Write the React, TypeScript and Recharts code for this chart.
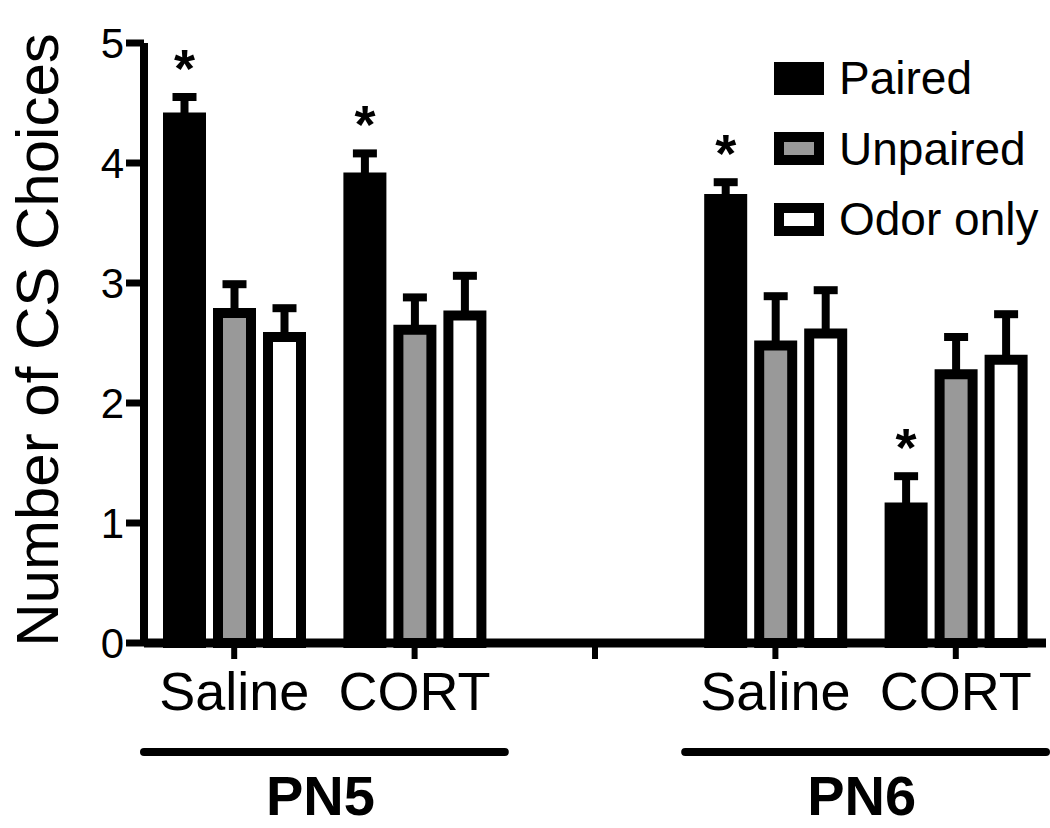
import { Bar, BarChart, ErrorBar, LabelList, Legend, XAxis, YAxis } from "recharts";

const categories = ["Saline", "CORT", "", "Saline", "CORT"];
const groups = ["PN5", "PN5", "", "PN6", "PN6"];

const paired = [4.38, 3.88, null, 3.7, 1.13];
const pairedSem = [0.17, 0.2, null, 0.14, 0.26];
const unpaired = [2.75, 2.61, null, 2.48, 2.24];
const unpairedSem = [0.24, 0.27, null, 0.41, 0.31];
const odorOnly = [2.55, 2.73, null, 2.58, 2.36];
const odorOnlySem = [0.24, 0.33, null, 0.36, 0.38];
const pairedSig = [true, true, false, true, true];

const yTicks = [0, 1, 2, 3, 4, 5];

const FONT = "'Liberation Sans', Arial, Helvetica, sans-serif";
const W = 1050;
const H = 828;
const MARGIN = { top: 43, right: 4, bottom: 0, left: 0 };
const Y_AXIS_W = 144;
const BAND = (W - MARGIN.left - MARGIN.right - Y_AXIS_W) / categories.length;

const series = [
  { key: "paired", label: "Paired", fill: "#000000" },
  { key: "unpaired", label: "Unpaired", fill: "#999999" },
  { key: "odor", label: "Odor only", fill: "#ffffff" },
];

const rows = categories.map((cat, i) => ({
  cat,
  group: groups[i],
  paired: paired[i] ?? undefined,
  pairedErr: pairedSem[i] != null ? [0, pairedSem[i]] : undefined,
  pairedStar: pairedSig[i] ? i : undefined,
  unpaired: unpaired[i] ?? undefined,
  unpairedErr: unpairedSem[i] != null ? [0, unpairedSem[i]] : undefined,
  odor: odorOnly[i] ?? undefined,
  odorErr: odorOnlySem[i] != null ? [0, odorOnlySem[i]] : undefined,
}));

function XTick(props: any) {
  const { x, y, payload, index } = props;
  const label = payload.value as string;
  // last category of a group draws the group bracket + name
  const endsGroup = groups[index] !== "" && groups[index + 1] !== groups[index];
  return (
    <g>
      {label && (
        <text x={x} y={y + 49} textAnchor="middle" fontSize={54} fontFamily={FONT} fill="#000">
          {label}
        </text>
      )}
      {endsGroup && (
        <>
          <line
            x1={x - 1.5 * BAND}
            x2={x + 0.5 * BAND}
            y1={y + 91}
            y2={y + 91}
            stroke="#000"
            strokeWidth={8}
            strokeLinecap="round"
          />
          <text
            x={x - 0.5 * BAND - 4}
            y={y + 154}
            textAnchor="middle"
            fontSize={56}
            fontWeight="bold"
            fontFamily={FONT}
            fill="#000"
          >
            {groups[index]}
          </text>
        </>
      )}
    </g>
  );
}

function Star(props: any) {
  const vb = props.viewBox ?? props;
  const { x, y, width, height } = vb;
  const i = props.value;
  if (i == null || !pairedSig[i] || paired[i] == null) return null;
  const pxPerUnit = height / (paired[i] as number);
  const capY = y - (pairedSem[i] as number) * pxPerUnit;
  return (
    <text
      x={x + width / 2}
      y={capY - 38 + 28}
      textAnchor="middle"
      fontSize={54}
      fontWeight="bold"
      fontFamily={FONT}
      fill="#000"
    >
      *
    </text>
  );
}

function YLabel(props: any) {
  const vb = props.viewBox;
  const cx = 37;
  const cy = vb.y + vb.height / 2 - 3;
  return (
    <text
      x={cx}
      y={cy}
      transform={`rotate(-90, ${cx}, ${cy})`}
      textAnchor="middle"
      dominantBaseline="central"
      fontSize={60}
      fontFamily={FONT}
      fill="#000"
    >
      Number of CS Choices
    </text>
  );
}

function LegendBox() {
  return (
    <div style={{ fontFamily: FONT }}>
      {series.map((s) => (
        <div key={s.key} style={{ display: "flex", alignItems: "center", height: 70.5, whiteSpace: "nowrap" }}>
          <svg width={50} height={33}>
            {s.fill === "#000000" ? (
              <rect x={0} y={0} width={50} height={33} fill="#000" />
            ) : (
              <rect x={5} y={5} width={40} height={23} fill={s.fill} stroke="#000" strokeWidth={10} />
            )}
          </svg>
          <span style={{ marginLeft: 15, fontSize: 46, lineHeight: "46px", color: "#000" }}>{s.label}</span>
        </div>
      ))}
    </div>
  );
}

export default function App() {
  return (
    <div style={{ position: "absolute", left: 0, top: 0, width: W, height: H, background: "#fff" }}>
      <BarChart width={W} height={H} data={rows} margin={MARGIN} barSize={33} barGap={17}>
        <XAxis
          dataKey="cat"
          interval={0}
          height={H - 643}
          tickSize={16}
          axisLine={{ stroke: "#000", strokeWidth: 9 }}
          tickLine={{ stroke: "#000", strokeWidth: 6 }}
          tick={<XTick />}
        />
        <YAxis
          domain={[0, 5]}
          ticks={yTicks}
          width={Y_AXIS_W}
          tickSize={18}
          tickMargin={2}
          axisLine={{ stroke: "#000", strokeWidth: 8 }}
          tickLine={{ stroke: "#000", strokeWidth: 7 }}
          tick={{ fill: "#000", fontSize: 42, fontFamily: FONT }}
          label={{ content: <YLabel /> }}
        />
        <Legend
          layout="vertical"
          align="center"
          verticalAlign="middle"
          wrapperStyle={{ left: 774, top: 43, width: 276 }}
          content={<LegendBox />}
        />
        <Bar dataKey="paired" name="Paired" fill="#000" stroke="#000" strokeWidth={10} isAnimationActive={false}>
          <ErrorBar dataKey="pairedErr" direction="y" width={12} strokeWidth={8} stroke="#000" />
          <LabelList dataKey="pairedStar" content={<Star />} />
        </Bar>
        <Bar dataKey="unpaired" name="Unpaired" fill="#999999" stroke="#000" strokeWidth={10} isAnimationActive={false}>
          <ErrorBar dataKey="unpairedErr" direction="y" width={12} strokeWidth={8} stroke="#000" />
        </Bar>
        <Bar dataKey="odor" name="Odor only" fill="#fff" stroke="#000" strokeWidth={10} isAnimationActive={false}>
          <ErrorBar dataKey="odorErr" direction="y" width={12} strokeWidth={8} stroke="#000" />
        </Bar>
      </BarChart>
    </div>
  );
}
